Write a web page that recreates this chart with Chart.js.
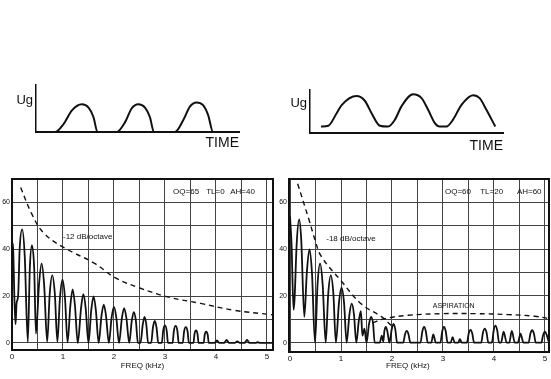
<!DOCTYPE html>
<html>
<head>
<meta charset="utf-8">
<script src="https://cdn.jsdelivr.net/npm/chart.js@4.4.0/dist/chart.umd.min.js"></script>
<style>
  body { margin: 0; background: #fff; }
  #page { position: relative; width: 551px; height: 379px; overflow: hidden; background: #fff; }
  canvas { position: absolute; }
</style>
</head>
<body>
<div id="page">
  <canvas id="waveLeft" width="250" height="85" style="left:0;top:70px"></canvas>
  <canvas id="waveRight" width="240" height="85" style="left:275px;top:70px"></canvas>
  <canvas id="specLeft" width="280" height="209" style="left:0;top:170px"></canvas>
  <canvas id="specRight" width="274" height="209" style="left:277px;top:170px"></canvas>
</div>
<script>
// glottal flow, left panel (time in % of axis, flow relative)
const wave1Time = [0, 9.5, 13.6, 17.7, 22.6, 25.9, 28.3, 30.3, 39.8, 43.9, 47.1, 50.4, 53.7, 56.1, 58.1, 68.4, 72.5, 75.8, 79, 82.3, 84.8, 87.2, 96];
const wave1Flow = [0, 0, 0.17, 0.46, 0.59, 0.52, 0.32, 0, 0, 0.21, 0.5, 0.59, 0.52, 0.32, 0, 0, 0.25, 0.54, 0.63, 0.57, 0.36, 0, 0];

// glottal flow, right panel
const wave2Time = [5.7, 9.5, 13.8, 16.4, 24.1, 28.4, 31.9, 36.2, 40.5, 44, 47.4, 53.4, 57.8, 61.2, 64.7, 67.2, 70.7, 74.1, 78.4, 84.5, 87.9, 91.4, 96];
const wave2Flow = [0.15, 0.17, 0.46, 0.65, 0.86, 0.75, 0.46, 0.17, 0.15, 0.31, 0.62, 0.9, 0.81, 0.54, 0.23, 0.15, 0.15, 0.31, 0.65, 0.88, 0.81, 0.54, 0.15];

// spectrum, left panel (kHz, dB)
const spec1Freq = [
  0, 0.02, 0.05, 0.07, 0.09, 0.12, 0.15, 0.2, 0.25, 0.31,
  0.35, 0.39, 0.435, 0.47, 0.53, 0.58, 0.63, 0.69, 0.74, 0.79, 0.84, 0.89,
  0.94, 0.99, 1.04, 1.09, 1.145, 1.19, 1.235, 1.29, 1.355, 1.4, 1.445, 1.5,
  1.555, 1.6, 1.645, 1.7, 1.755, 1.8, 1.845, 1.9, 1.955, 2, 2.045, 2.1,
  2.155, 2.2, 2.245, 2.3, 2.35, 2.39, 2.43, 2.47,
  2.52, 2.565, 2.6, 2.635, 2.67, 2.73, 2.765, 2.8, 2.835, 2.87,
  2.94, 2.965, 3, 3.035, 3.06, 3.15, 3.175, 3.21, 3.245, 3.27,
  3.35, 3.375, 3.41, 3.445, 3.47, 3.56, 3.58, 3.61, 3.64, 3.66,
  3.76, 3.78, 3.81, 3.84, 3.86, 3.97, 4.02, 4.07, 4.16, 4.21, 4.26,
  4.37, 4.42, 4.47, 4.56, 4.61, 4.66, 4.77, 4.82, 4.87, 5.12];
const spec1Level = [
  43, 41, 17, 8, 17, 20, 40, 48.5, 37, 0.5,
  32, 41.7, 32, 4, 25, 33.9, 25, 0.5, 21, 28.9, 21, 0.5,
  19, 27, 19, 0.3, 16, 22.9, 16, 0, 15, 20.8, 15, 0,
  14, 19.9, 14, 0, 11.5, 16.4, 11.5, 0, 11, 15.4, 11, 0,
  10.5, 14.9, 10.5, 0, 9.5, 13.2, 9.5, 0,
  0, 7.8, 11.1, 7.8, 0, 0, 6.6, 9.4, 6.6, 0,
  0, 5.2, 7.5, 5.2, 0, 0, 5.1, 7.3, 5.1, 0,
  0, 4.8, 6.8, 4.8, 0, 0, 3.8, 5.4, 3.8, 0,
  0, 3.4, 4.8, 3.4, 0, 0, 1.1, 0, 0, 1.3, 0,
  0, 0.7, 0, 0, 1.3, 0, 0, 0.3, 0, 0];
const slope1Freq = [0.17, 0.39, 0.62, 1.02, 1.62, 2.02, 2.49, 3.05, 3.7, 4.35, 5.12];
const slope1Level = [66.4, 55, 47, 40.7, 34, 27.9, 23.6, 19.7, 16.9, 14, 12];

// spectrum, right panel
const spec2Freq = [
  0, 0.03, 0.07, 0.09, 0.13, 0.18, 0.22, 0.28,
  0.33, 0.38, 0.43, 0.49, 0.54, 0.59, 0.64, 0.7, 0.75, 0.8, 0.85, 0.9,
  0.96, 1.01, 1.06, 1.11, 1.165, 1.21, 1.255, 1.3,
  1.35, 1.39, 1.42, 1.46, 1.5, 1.55, 1.59, 1.63, 1.66,
  1.76, 1.8, 1.83, 1.85, 1.88, 1.91, 1.95, 1.995, 2.03, 2.065, 2.1,
  2.22, 2.255, 2.29, 2.325, 2.36, 2.56, 2.595, 2.63, 2.665, 2.7,
  2.77, 2.81, 2.86, 2.95, 2.985, 3.02, 3.055, 3.09, 3.15, 3.19, 3.23,
  3.3, 3.33, 3.37, 3.47, 3.505, 3.54, 3.575, 3.61, 3.75, 3.785, 3.82, 3.855, 3.89,
  3.96, 3.995, 4.03, 4.065, 4.1, 4.14, 4.19, 4.25, 4.3, 4.35, 4.41,
  4.47, 4.52, 4.58, 4.68, 4.715, 4.75, 4.785, 4.82, 4.93, 4.965, 5, 5.035, 5.08];
const spec2Level = [
  54, 42, 14, 19, 42, 52.7, 44, 11,
  30, 39.9, 30, 0, 25, 33.8, 25, 0, 21, 28.8, 21, 0,
  17, 23.5, 17, 0, 12, 16.7, 12, 0,
  9.5, 13.5, 3, 6, 0, 8, 11, 8, 0,
  0, 3, 0.5, 4.8, 6.7, 4.8, 0, 5.7, 8, 5.7, 0,
  0, 3.5, 5, 3.5, 0, 0, 4.8, 6.7, 4.8, 0,
  0, 3.5, 0, 0, 4.8, 6.7, 4.8, 0, 0, 2.4, 0,
  0, 1.5, 0, 0, 3.9, 5.5, 3.9, 0, 0, 4.3, 6, 4.3, 0,
  0, 5.2, 7.3, 5.2, 0, 0, 4.7, 0, 0, 5, 0,
  0, 3.8, 0, 0, 3.8, 5.3, 3.8, 0, 0, 3.3, 4.7, 3.3, 0];
const slope2Freq = [0.15, 0.38, 0.49, 0.61, 1, 1.4, 1.8, 2];
const slope2Level = [68, 52, 44, 37, 26.5, 16.5, 11, 7];
const aspFreq = [1.62, 1.86, 2.32, 2.97, 3.63, 4.28, 4.8, 5.08];
const aspLevel = [8.5, 10.3, 11.7, 12.4, 12.4, 12, 11.3, 10.3];

const freqTicks = [0, 0.5, 1, 1.5, 2, 2.5, 3, 3.5, 4, 4.5, 5];
const levelTicks = [0, 10, 20, 30, 40, 50, 60];

Chart.defaults.font.family = "'Liberation Sans', Arial, Helvetica, sans-serif";
Chart.defaults.color = '#111';
Chart.defaults.animation = false;
Chart.defaults.plugins.legend.display = false;
Chart.defaults.plugins.tooltip.enabled = false;

const INK = '#111';
const GRID = '#444';

function points(xs, ys) {
  return xs.map((x, i) => ({ x: x, y: ys[i] }));
}

// text written inside the plot, placed in data units
const notesPlugin = {
  id: 'notes',
  afterDatasetsDraw(chart, args, opts) {
    const { ctx, scales } = chart;
    ctx.save();
    ctx.fillStyle = INK;
    ctx.textBaseline = 'middle';
    ctx.textAlign = 'left';
    (opts.items || []).forEach(n => {
      ctx.font = n.size + "px 'Liberation Sans', Arial, sans-serif";
      ctx.fillText(n.text, scales.x.getPixelForValue(n.x), scales.y.getPixelForValue(n.y));
    });
    ctx.restore();
  }
};

function waveChart(id, time, flow, o) {
  return new Chart(document.getElementById(id), {
    type: 'line',
    data: {
      datasets: [{
        data: points(time, flow),
        borderColor: INK,
        borderWidth: 2,
        pointRadius: 0,
        cubicInterpolationMode: 'monotone',
        clip: false
      }]
    },
    options: {
      responsive: false,
      layout: { padding: o.pad },
      scales: {
        x: {
          type: 'linear', min: 0, max: 100,
          afterFit: s => { s.height = o.xh; },
          ticks: { display: false },
          grid: { display: false, drawTicks: false },
          border: { color: INK, width: 2 },
          title: { display: true, text: 'TIME', align: 'end', color: INK, font: { size: 14 }, padding: { top: 0, bottom: o.tb } }
        },
        y: {
          min: 0, max: 1,
          afterFit: s => { s.width = o.yw; },
          afterBuildTicks: s => { s.ticks = [{ value: o.ug }]; },
          ticks: { callback: () => 'Ug', font: { size: 13 }, padding: 3, color: INK },
          grid: { display: false, drawTicks: false },
          border: { color: INK, width: 1.5 }
        }
      }
    }
  });
}

function spectrumChart(id, datasets, o) {
  const edge = { display: true, color: INK, width: 2 };
  return new Chart(document.getElementById(id), {
    type: 'line',
    data: { datasets: datasets },
    options: {
      responsive: false,
      layout: { padding: o.pad },
      plugins: { notes: { items: o.notes } },
      scales: {
        x: {
          type: 'linear', min: o.xmin, max: o.xmax,
          afterFit: s => { s.height = o.xh; },
          afterBuildTicks: s => { s.ticks = freqTicks.map(v => ({ value: v })); },
          ticks: {
            font: { size: 8 }, padding: 2, maxRotation: 0, autoSkip: false, color: INK,
            callback: v => Number.isInteger(v) ? String(v) : ''
          },
          grid: { color: GRID, lineWidth: 1, drawTicks: false },
          border: edge,
          title: { display: true, text: o.xtitle, color: INK, font: { size: 8 }, padding: { top: 0, bottom: o.tb } }
        },
        y: {
          min: o.ymin, max: 70,
          afterFit: s => { s.width = 12; },
          afterBuildTicks: s => { s.ticks = levelTicks.map(v => ({ value: v })); },
          ticks: { font: { size: 7 }, padding: 2, color: INK, callback: v => v % 20 === 0 ? String(v) : '' },
          grid: { color: GRID, lineWidth: 1, drawTicks: false },
          border: edge
        },
        x2: {
          type: 'linear', position: 'top', min: o.xmin, max: o.xmax,
          afterFit: s => { s.height = 0; },
          ticks: { display: false },
          grid: { display: false, drawTicks: false },
          border: edge
        },
        y2: {
          type: 'linear', position: 'right', min: o.ymin, max: 70,
          afterFit: s => { s.width = 0; },
          ticks: { display: false },
          grid: { display: false, drawTicks: false },
          border: edge
        }
      }
    },
    plugins: [notesPlugin]
  });
}

function solid(xs, ys) {
  return { data: points(xs, ys), borderColor: INK, borderWidth: 1.8, pointRadius: 0, cubicInterpolationMode: 'monotone' };
}

function dashed(xs, ys) {
  return { data: points(xs, ys), borderColor: INK, borderWidth: 1.4, borderDash: [5, 4], pointRadius: 0, tension: 0.4 };
}

waveChart('waveLeft', wave1Time, wave1Flow, { pad: { top: 15, right: 11, left: 0, bottom: 0 }, xh: 23, yw: 36, tb: 3, ug: 0.68 });
waveChart('waveRight', wave2Time, wave2Flow, { pad: { top: 20, right: 12, left: 0, bottom: 0 }, xh: 22, yw: 35, tb: 0, ug: 0.69 });

spectrumChart('specLeft', [solid(spec1Freq, spec1Level), dashed(slope1Freq, slope1Level)], {
  pad: { top: 9, right: 7, left: 0, bottom: 0 }, xh: 29, tb: 8,
  xmin: 0, xmax: 5.12, ymin: -3,
  xtitle: 'FREQ (kHz)',
  notes: [
    { text: 'OQ=65', x: 3.16, y: 64.6, size: 8 },
    { text: 'TL=0', x: 3.81, y: 64.6, size: 8 },
    { text: 'AH=40', x: 4.28, y: 64.6, size: 8 },
    { text: '-12 dB/octave', x: 1.0, y: 45.4, size: 8 }
  ]
});

spectrumChart('specRight', [solid(spec2Freq, spec2Level), dashed(slope2Freq, slope2Level), dashed(aspFreq, aspLevel)], {
  pad: { top: 9, right: 2, left: 0, bottom: 0 }, xh: 27, tb: 8,
  xmin: -0.02, xmax: 5.08, ymin: -4,
  xtitle: 'FREQ (kHz)          ',
  notes: [
    { text: 'OQ=60', x: 3.04, y: 64.4, size: 8 },
    { text: 'TL=20', x: 3.73, y: 64.4, size: 8 },
    { text: 'AH=60', x: 4.45, y: 64.4, size: 8 },
    { text: '-18 dB/octave', x: 0.71, y: 44.6, size: 8 },
    { text: 'ASPIRATION', x: 2.8, y: 15.5, size: 7 }
  ]
});
</script>
</body>
</html>
